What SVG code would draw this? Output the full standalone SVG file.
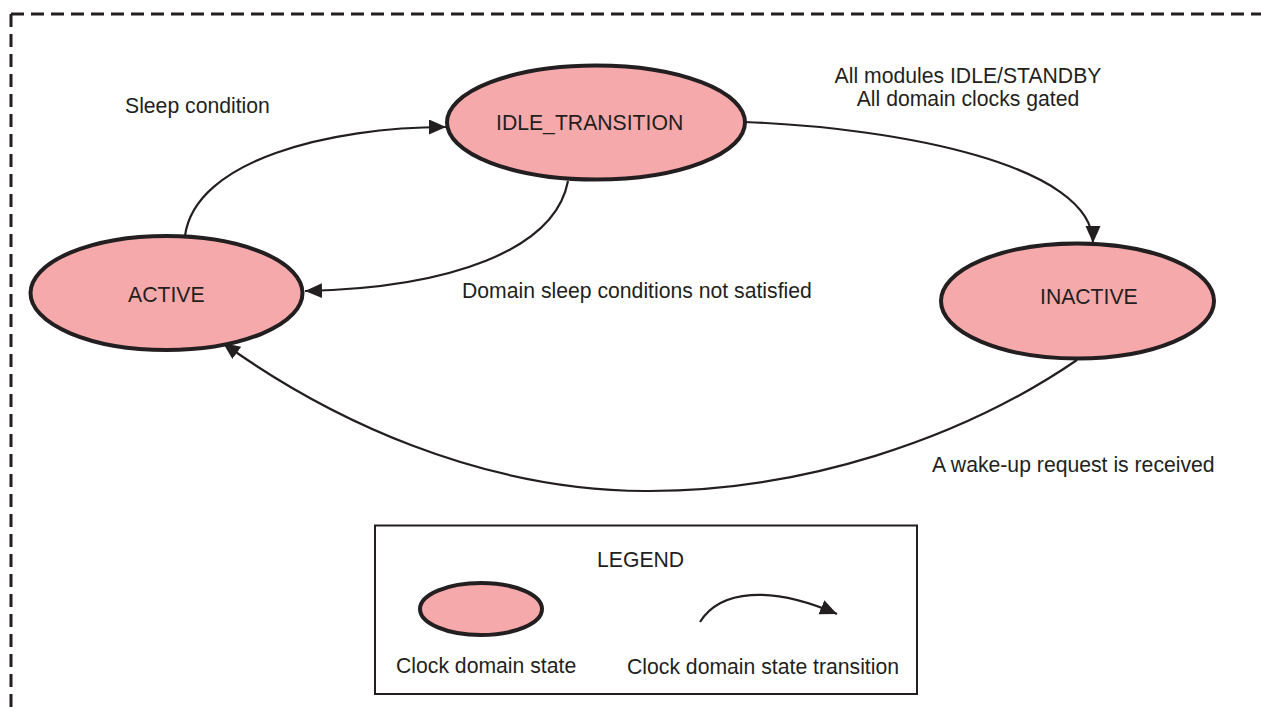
<svg xmlns="http://www.w3.org/2000/svg" width="1261" height="711" viewBox="0 0 1261 711">
<style>
.state{fill:#F6A9AB;stroke:#231F20;stroke-width:4}
.lbl{font-family:"Liberation Sans",Arial,sans-serif;font-size:21.2px;fill:#231F20}
.conn{fill:none;stroke:#231F20;stroke-width:2.2}
.border{fill:none;stroke:#231F20;stroke-width:3;stroke-dasharray:13 7}
</style>
<defs>
<marker id="arr" markerUnits="userSpaceOnUse" markerWidth="19" markerHeight="17" refX="17" refY="7.5" orient="auto">
<path d="M0,0 L17,7.5 L0,15 Z" fill="#231F20"/>
</marker>
</defs>
<rect width="1261" height="711" fill="#ffffff"/>
<g id="frame">
<path class="border" d="M11,14 L1275,14"/>
<path class="border" d="M11,14 L11,725"/>
</g>
<g id="connectors">
<path class="conn" d="M185,236 C195,160 330,127 446,127" marker-end="url(#arr)"/>
<path class="conn" d="M568,181 C555,250 450,288 305,291" marker-end="url(#arr)"/>
<path class="conn" d="M745,122 C900,128 1093,165 1093,243" marker-end="url(#arr)"/>
<path class="conn" d="M1077,360 C960,440 800,492 645,491 C480,490 330,420 223,343" marker-end="url(#arr)"/>
</g>
<g id="active">
<ellipse class="state" cx="166.5" cy="293" rx="136" ry="57"/>
<text class="lbl" x="128" y="302">ACTIVE</text>
</g>
<g id="idle_transition">
<ellipse class="state" cx="596" cy="122.5" rx="149" ry="57"/>
<text class="lbl" x="496" y="130">IDLE_TRANSITION</text>
</g>
<g id="inactive">
<ellipse class="state" cx="1077.5" cy="301" rx="136.5" ry="57.5"/>
<text class="lbl" x="1040" y="304">INACTIVE</text>
</g>
<g id="labels">
<text class="lbl" x="125" y="113">Sleep condition</text>
<text class="lbl" x="462" y="298">Domain sleep conditions not satisfied</text>
<text class="lbl" x="968" y="83" text-anchor="middle">All modules IDLE/STANDBY</text>
<text class="lbl" x="968" y="106" text-anchor="middle">All domain clocks gated</text>
<text class="lbl" x="932" y="472">A wake-up request is received</text>
</g>
<g id="legend">
<rect x="375" y="525.5" width="542" height="168.5" fill="none" stroke="#231F20" stroke-width="2"/>
<text class="lbl" x="597" y="567">LEGEND</text>
<ellipse class="state" cx="481" cy="609" rx="61" ry="26"/>
<text class="lbl" x="396" y="673">Clock domain state</text>
<path class="conn" d="M700,622 C720,590 770,585 837,614" marker-end="url(#arr)"/>
<text class="lbl" x="627" y="674">Clock domain state transition</text>
</g>
</svg>
